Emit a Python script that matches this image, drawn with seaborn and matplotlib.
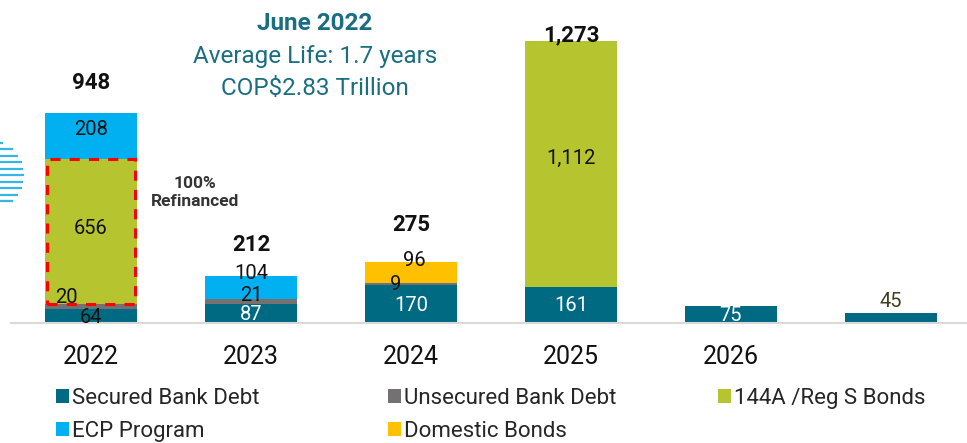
import numpy as np
import pandas as pd
import matplotlib
matplotlib.use("Agg")
import matplotlib.pyplot as plt
from matplotlib.patches import Rectangle, Patch
from matplotlib.lines import Line2D
import seaborn as sns

# ---- data (COP$ billions by maturity year) ----
years = ["2022", "2023", "2024", "2025", "2026", "2027+"]
year_labels = ["2022", "2023", "2024", "2025", "2026", ""]
secured = [64, 87, 170, 161, 75, 45]
unsecured = [20, 21, 9, 0, 0, 0]
bonds_144a = [656, 0, 0, 1112, 0, 0]
ecp = [208, 104, 0, 0, 0, 0]
domestic = [0, 0, 96, 0, 0, 0]
series_names = ["Secured Bank Debt", "Unsecured Bank Debt", "144A /Reg S Bonds",
                "ECP Program", "Domestic Bonds"]
title_lines = ["June 2022", "Average Life: 1.7 years", "COP$2.83 Trillion"]
refi_note = "100%\nRefinanced"

# ---- style ----
W, H, DPI = 967, 443, 100
colors = ["#006A82", "#767171", "#B5C42F", "#00B0F0", "#FFC000"]
title_color = "#1A6E82"
grid_grey = "#D9D9D9"

sns.set_style("white")
plt.rcParams["font.family"] = ["Roboto", "DejaVu Sans"]

fig = plt.figure(figsize=(W / DPI, H / DPI), dpi=DPI)
base_px = 323
ax = fig.add_axes([11 / W, (H - base_px) / H, 960 / W, base_px / H])

df = pd.DataFrame({"year": years, "secured": secured, "unsecured": unsecured,
                   "b144a": bonds_144a, "ecp": ecp, "domestic": domestic})
cols = ["secured", "unsecured", "b144a", "ecp", "domestic"]
bar_w = 0.575

bottom = np.zeros(len(years))
bottoms = {}
for col, c in zip(cols, colors):
    bottoms[col] = bottom.copy()
    sns.barplot(data=df, x="year", y=col, order=years, color=c, width=bar_w,
                errorbar=None, bottom=bottom.copy(), linewidth=0, ax=ax,
                saturation=1)
    bottom = bottom + df[col].to_numpy()
totals = bottom

ax.set_xlim(-0.5, 5.5)
ax.set_ylim(0, 1460)
ax.set_ylabel("")
ax.set_xlabel("")
ax.set_yticks([])
for s in ["left", "right", "top"]:
    ax.spines[s].set_visible(False)
ax.spines["bottom"].set_color(grid_grey)
ax.spines["bottom"].set_linewidth(1.5)
ax.set_xticks(range(len(years)))
ax.set_xticklabels(year_labels, fontsize=18, color="#111111")
ax.tick_params(axis="x", which="major", length=0, pad=16)
ax.set_xticks(np.arange(-0.5, len(years), 1.0), minor=True)
ax.tick_params(axis="x", which="minor", length=7, width=1.5, color=grid_grey)

# segment value labels: (series, year index) -> nudge in px (dx, dy up), colour
nudges = {
    ("secured", 0): (0, -2, "#111111"),
    ("unsecured", 0): (-25, 9, "#111111"),
    ("b144a", 0): (0, 3, "#111111"),
    ("ecp", 0): (0, 7, "#111111"),
    ("secured", 1): (0, -1, "white"),
    ("unsecured", 1): (0, 6, "#111111"),
    ("ecp", 1): (0, 14, "#111111"),
    ("secured", 2): (0, -1, "white"),
    ("unsecured", 2): (-15, 0, "#111111"),
    ("domestic", 2): (3, 12, "#111111"),
    ("secured", 3): (0, 0, "white"),
    ("b144a", 3): (0, 6, "#111111"),
    ("secured", 4): (0, -1, "white"),
    ("secured", 5): (0, 17, "#404020"),
}
px2pt = 72 / DPI
for (col, i), (dx, dy, tc) in nudges.items():
    v = df[col].iloc[i]
    yc = bottoms[col][i] + v / 2
    ax.annotate(f"{v:,}", (i, yc), xytext=(dx * px2pt, dy * px2pt),
                textcoords="offset points", ha="center", va="center",
                fontsize=14.5, color=tc)

# totals above the stacks
total_offsets = [30, 31.5, 37, 6]
for i, off in enumerate(total_offsets):
    ax.annotate(f"{int(totals[i]):,}", (i, totals[i]), xytext=(0, off * px2pt),
                textcoords="offset points", ha="center", va="center",
                fontsize=16, fontweight="bold", color="#111111")

# dashed outline around the refinanced 144A tranche
ax.add_patch(Rectangle((-bar_w / 2 + 0.015, bottoms["b144a"][0]), bar_w - 0.03,
                       bonds_144a[0], fill=False, edgecolor="#FF0000",
                       linewidth=2.2, linestyle=(0, (3.3, 3)), zorder=5))

fig.text(195 / W, 1 - 192 / H, refi_note, ha="center", va="center",
         fontsize=12.5, fontweight="bold", color="#333333", linespacing=1.25)

# title block
for txt, base, wt in zip(title_lines, [30, 63, 95], ["bold", "normal", "normal"]):
    fig.text(315 / W, 1 - base / H, txt, ha="center", va="baseline",
             fontsize=17.5, fontweight=wt, color=title_color)

# striped circle emblem on the left edge
cx, cy, r = -12, 175, 36
for k in range(-5, 5):
    yy = cy + k * 6.5
    dy = yy - cy
    if abs(dy) < r:
        x1 = cx + np.sqrt(r * r - dy * dy)
        if x1 > 0:
            fig.add_artist(Line2D([0, x1 / W], [1 - yy / H, 1 - yy / H],
                                  transform=fig.transFigure, color="#35B6E5",
                                  linewidth=1.6, solid_capstyle="butt"))

# legend in three columns
handles = [Patch(facecolor=c, edgecolor="none") for c in colors]
col_groups = [[0, 3], [1, 4], [2]]
col_x = [56, 388, 718]
for grp, x in zip(col_groups, col_x):
    fig.legend([handles[j] for j in grp], [series_names[j] for j in grp],
               loc="upper left", bbox_to_anchor=(x / W, 1 - 388 / H),
               frameon=False, fontsize=16, handlelength=0.58, handleheight=0.58,
               handletextpad=0.15, labelspacing=0.55, borderpad=0,
               borderaxespad=0)

fig.savefig("out.png", dpi=DPI)
